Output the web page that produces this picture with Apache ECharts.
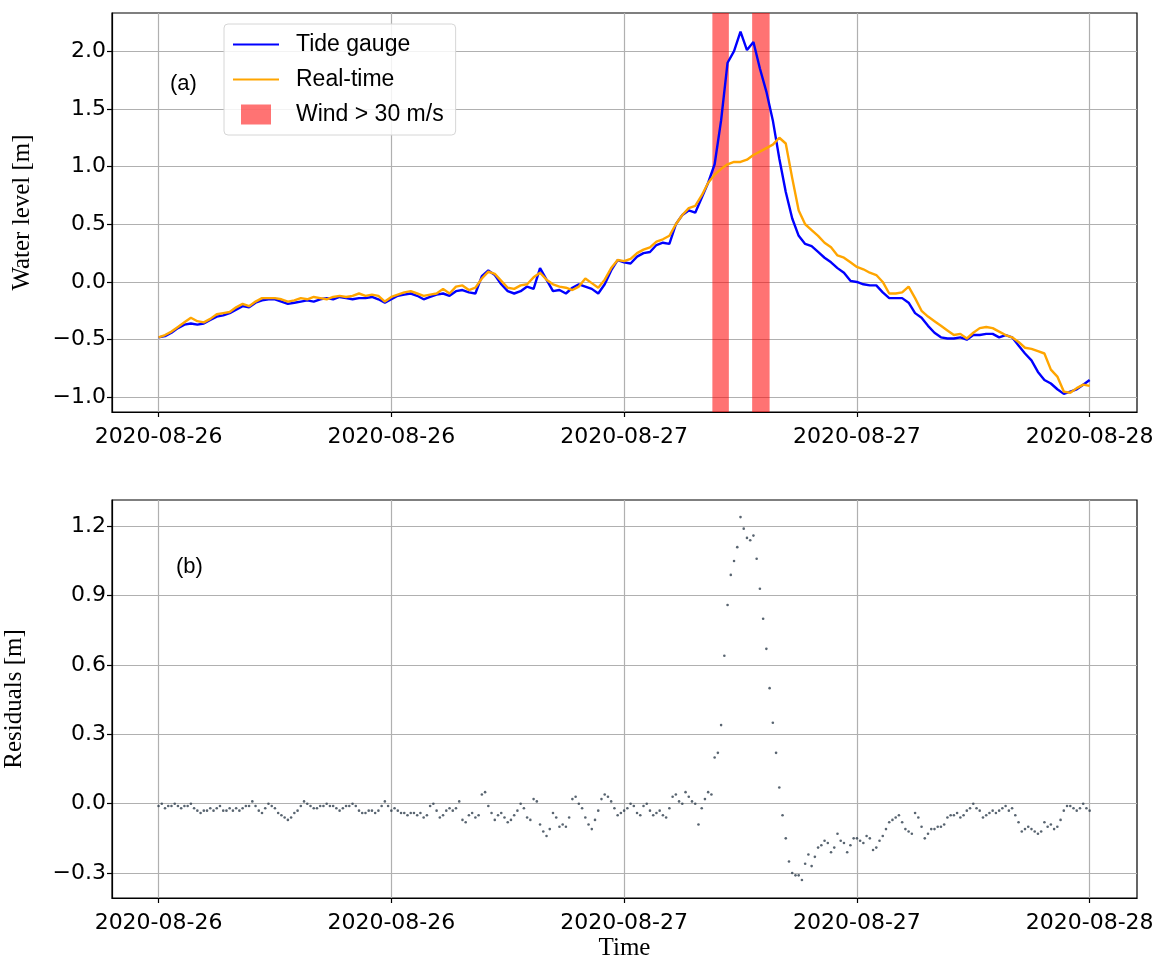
<!DOCTYPE html>
<html>
<head>
<meta charset="utf-8">
<title>Water level and residuals</title>
<script src="https://cdn.jsdelivr.net/npm/echarts@6/dist/echarts.min.js"></script>
<style>
  html, body { margin: 0; padding: 0; background: #fff; }
  #chart { width: 1158px; height: 959px; }
</style>
</head>
<body>
<div id="chart"></div>
<script>
// Time base: hours since 2020-08-26 00:00 UTC
const START_UTC = Date.UTC(2020, 7, 26);
const LEVEL_STEP_H = 1 / 3;   // water level sampled every 20 min
const RESID_STEP_H = 1 / 6;   // residuals sampled every 10 min

// Observed water level at the tide gauge [m]
const tideGauge = [
  -0.48, -0.47, -0.44,  -0.40, -0.37, -0.36,  -0.37, -0.36, -0.33,  -0.30, -0.29, -0.27,
  -0.24, -0.21, -0.22,  -0.18, -0.16, -0.15,  -0.15, -0.17, -0.19,  -0.18, -0.17, -0.16,
  -0.17, -0.15, -0.14,  -0.15, -0.13, -0.14,  -0.15, -0.14, -0.14,  -0.13, -0.15, -0.18,
  -0.15, -0.12, -0.11,  -0.10, -0.12, -0.15,  -0.13, -0.11, -0.10,  -0.12, -0.08, -0.07,
  -0.09, -0.10,  0.05,   0.10,  0.06, -0.02,  -0.08, -0.10, -0.08,  -0.04, -0.06,  0.12,
   0.02, -0.08, -0.07,  -0.10, -0.05, -0.02,  -0.04, -0.06, -0.10,  -0.02,  0.10,  0.19,
   0.17,  0.16,  0.22,   0.25,  0.26,  0.32,   0.34,  0.33,  0.50,   0.58,  0.62,  0.60,
   0.73,  0.86,  1.02,   1.40,  1.90,  2.00,   2.17,  2.01,  2.08,   1.85,  1.65,  1.40,
   1.07,  0.78,  0.55,   0.40,  0.33,  0.31,   0.26,  0.21,  0.17,   0.12,  0.08,  0.01,
   0.00, -0.02, -0.03,  -0.03, -0.09, -0.14,  -0.14, -0.14, -0.18,  -0.27, -0.31, -0.38,
  -0.44, -0.48, -0.49,  -0.49, -0.48, -0.50,  -0.46, -0.46, -0.45,  -0.45, -0.48, -0.46,
  -0.48, -0.55, -0.62,  -0.68, -0.78, -0.85,  -0.88, -0.93, -0.97,  -0.95, -0.93, -0.89,
  -0.85
];

// Real-time model water level [m]
const realTime = [
  -0.48, -0.46, -0.43,  -0.39, -0.35, -0.31,  -0.34, -0.35, -0.32,  -0.28, -0.27, -0.26,
  -0.22, -0.19, -0.21,  -0.17, -0.14, -0.14,  -0.14, -0.15, -0.17,  -0.16, -0.14, -0.15,
  -0.13, -0.14, -0.15,  -0.13, -0.12, -0.13,  -0.12, -0.10, -0.12,  -0.11, -0.12, -0.17,
  -0.13, -0.11, -0.09,  -0.08, -0.10, -0.12,  -0.11, -0.10, -0.06,  -0.10, -0.04, -0.03,
  -0.07, -0.05,  0.03,   0.09,  0.07,  0.01,  -0.05, -0.06, -0.03,  -0.02,  0.04,  0.08,
   0.02, -0.02, -0.04,  -0.05, -0.07, -0.04,   0.03, -0.01, -0.05,   0.02,  0.12,  0.19,
   0.18,  0.20,  0.25,   0.28,  0.30,  0.35,   0.37,  0.40,  0.50,   0.58,  0.64,  0.66,
   0.75,  0.86,  0.93,   0.98,  1.02,  1.04,   1.04,  1.06,  1.10,   1.13,  1.16,  1.19,
   1.25,  1.20,  0.90,   0.62,  0.50,  0.45,   0.40,  0.34,  0.30,   0.23,  0.21,  0.17,
   0.13,  0.11,  0.08,   0.06,  0.00, -0.10,  -0.10, -0.09, -0.04,  -0.14, -0.25, -0.30,
  -0.34, -0.38, -0.42,  -0.46, -0.45, -0.49,  -0.44, -0.40, -0.39,  -0.40, -0.43, -0.46,
  -0.48, -0.52, -0.57,  -0.58, -0.60, -0.62,  -0.76, -0.82, -0.95,  -0.96, -0.92, -0.89,
  -0.90
];

// Residuals between gauge and model [m]
const residuals = [
  -0.01,  0.00, -0.02, -0.01, -0.01,  0.00,   -0.01, -0.02, -0.01, -0.01,  0.00, -0.02,
  -0.03, -0.04, -0.03, -0.03, -0.02, -0.03,   -0.02, -0.01, -0.03, -0.03, -0.02, -0.03,
  -0.02, -0.03, -0.02, -0.01, -0.01,  0.01,   -0.01, -0.03, -0.04, -0.02,  0.00, -0.01,
  -0.02, -0.04, -0.05, -0.06, -0.07, -0.06,   -0.04, -0.03, -0.01,  0.01,  0.00, -0.01,
  -0.02, -0.02, -0.01, -0.01,  0.00, -0.01,   -0.01, -0.02, -0.03, -0.02, -0.01, -0.01,
   0.00, -0.01, -0.03, -0.04, -0.04, -0.03,   -0.03, -0.04, -0.03, -0.01,  0.01, -0.01,
  -0.03, -0.02, -0.03, -0.04, -0.04, -0.05,   -0.04, -0.04, -0.05, -0.04, -0.06, -0.05,
  -0.01,  0.00, -0.03, -0.06, -0.05, -0.03,   -0.02, -0.03, -0.02,  0.01, -0.07, -0.08,
  -0.05, -0.04, -0.06, -0.05,  0.04,  0.05,   -0.01, -0.04, -0.07, -0.05, -0.04, -0.06,
  -0.08, -0.07, -0.05, -0.03,  0.00, -0.02,   -0.06, -0.07,  0.02,  0.01, -0.09, -0.12,
  -0.14, -0.11, -0.04, -0.06, -0.10, -0.09,   -0.10, -0.06,  0.02,  0.03,  0.00, -0.02,
  -0.06, -0.09, -0.11, -0.07, -0.03,  0.02,    0.04,  0.03,  0.01, -0.02, -0.05, -0.04,
  -0.03, -0.02,  0.00, -0.01, -0.04, -0.05,   -0.01,  0.00, -0.03, -0.05, -0.04, -0.03,
  -0.05, -0.06, -0.02,  0.03,  0.04,  0.01,    0.00,  0.05,  0.03,  0.01,  0.00, -0.09,
  -0.02,  0.02,  0.05,  0.04,  0.20,  0.22,    0.34,  0.64,  0.86,  0.99,  1.05,  1.11,
   1.24,  1.19,  1.15,  1.14,  1.16,  1.06,    0.93,  0.80,  0.67,  0.50,  0.35,  0.22,
   0.07, -0.05, -0.15, -0.25, -0.30, -0.31,   -0.31, -0.33, -0.26, -0.22, -0.27, -0.23,
  -0.19, -0.18, -0.16, -0.17, -0.21, -0.19,   -0.13, -0.16, -0.17, -0.21, -0.18, -0.15,
  -0.15, -0.16, -0.17, -0.14, -0.15, -0.20,   -0.19, -0.16, -0.14, -0.11, -0.08, -0.07,
  -0.06, -0.05, -0.08, -0.11, -0.12, -0.13,   -0.04, -0.06, -0.10, -0.15, -0.13, -0.11,
  -0.11, -0.10, -0.10, -0.09, -0.06, -0.05,   -0.05, -0.04, -0.06, -0.05, -0.03, -0.02,
   0.00, -0.02, -0.03, -0.06, -0.05, -0.04,   -0.03, -0.04, -0.03, -0.02, -0.01, -0.03,
  -0.02, -0.05, -0.08, -0.12, -0.11, -0.10,   -0.11, -0.12, -0.13, -0.12, -0.08, -0.10,
  -0.09, -0.11, -0.10, -0.07, -0.03, -0.01,   -0.01, -0.02, -0.03, -0.02,  0.00, -0.02,
  -0.03
];

// Periods with wind speed above 30 m/s [start hour, end hour]
const windWindows = [[28.55, 29.4], [30.6, 31.5]];

// Tick positions
const timeTicks = [0, 12, 24, 36, 48];
const levelTicks = [-1.0, -0.5, 0.0, 0.5, 1.0, 1.5, 2.0];
const residualTicks = [-0.3, 0.0, 0.3, 0.6, 0.9, 1.2];

const X_RANGE = [-2.40, 50.44];
const LEVEL_RANGE = [-1.127, 2.331];
const RESID_RANGE = [-0.408, 1.314];

const toPairs = (values, step) => values.map((v, i) => [i * step, v]);
const dateLabel = v => new Date(START_UTC + v * 3600e3).toISOString().slice(0, 10);
const numLabel = v => (v < -1e-9 ? '\u2212' : '') + Math.abs(v).toFixed(1);

const GRID_COLOR = '#b0b0b0';
const TICK_FONT = { color: '#000', fontFamily: 'DejaVu Sans', fontSize: 22 };
const TITLE_FONT = { color: '#000', fontFamily: 'Liberation Serif', fontSize: 25 };

function timeAxis(gridIndex, name) {
  return {
    type: 'value', gridIndex,
    min: X_RANGE[0], max: X_RANGE[1],
    axisLine: { show: true, onZero: false, lineStyle: { color: '#000', width: 1.2 } },
    axisTick: { show: true, inside: false, length: 5, customValues: timeTicks,
                lineStyle: { color: '#000', width: 1.2 } },
    axisLabel: Object.assign({ customValues: timeTicks, formatter: dateLabel, margin: 14 }, TICK_FONT),
    splitLine: { show: true, lineStyle: { color: GRID_COLOR, width: 1.2 } },
    name: name || '', nameLocation: 'middle', nameGap: 38, nameTextStyle: TITLE_FONT
  };
}

function valueAxis(gridIndex, range, ticks, name, nameGap) {
  return {
    type: 'value', gridIndex,
    min: range[0], max: range[1],
    axisLine: { show: true, onZero: false, lineStyle: { color: '#000', width: 1.2 } },
    axisTick: { show: true, inside: false, length: 5, customValues: ticks,
                lineStyle: { color: '#000', width: 1.2 } },
    axisLabel: Object.assign({ customValues: ticks, formatter: numLabel, margin: 6 }, TICK_FONT),
    splitLine: { show: true, lineStyle: { color: GRID_COLOR, width: 1.2 } },
    name, nameLocation: 'middle', nameRotate: 90, nameGap, nameTextStyle: TITLE_FONT
  };
}

const chart = echarts.init(document.getElementById('chart'), null, { renderer: 'canvas' });

const gridBase = { left: 112, right: 21, show: true, borderColor: '#000', borderWidth: 1.2,
                   containLabel: false, outerBoundsMode: 'none' };

chart.setOption({
  animation: false,
  backgroundColor: '#fff',
  grid: [
    Object.assign({ top: 13, height: 399 }, gridBase),
    Object.assign({ top: 500, height: 398 }, gridBase)
  ],
  xAxis: [timeAxis(0), timeAxis(1, 'Time')],
  yAxis: [
    valueAxis(0, LEVEL_RANGE, levelTicks, 'Water level [m]', 77),
    valueAxis(1, RESID_RANGE, residualTicks, 'Residuals [m]', 85)
  ],
  legend: {
    left: 224, top: 24, orient: 'vertical',
    itemWidth: 46, itemHeight: 20, itemGap: 12,
    padding: [9, 12, 9, 9],
    backgroundColor: 'rgba(255,255,255,0.85)',
    borderColor: '#d6d6d6', borderWidth: 1, borderRadius: 4,
    textStyle: { color: '#000', fontFamily: 'Liberation Sans', fontSize: 23, padding: [0, 0, 0, 12] },
    data: [
      { name: 'Tide gauge', icon: 'path://M0,0H46V2H0Z' },
      { name: 'Real-time', icon: 'path://M0,0H46V2H0Z' },
      { name: 'Wind > 30 m/s', icon: 'path://M0,0H3V2H0Z' }
    ]
  },
  graphic: [
    { type: 'text', left: 170, top: 73, style: { text: '(a)', fill: '#000', font: '22px "Liberation Sans"' } },
    { type: 'text', left: 176, top: 556, style: { text: '(b)', fill: '#000', font: '22px "Liberation Sans"' } }
  ],
  series: [
    {
      name: 'Wind > 30 m/s', type: 'line', xAxisIndex: 0, yAxisIndex: 0,
      data: [], z: 1, color: 'rgba(255,0,0,0.55)',
      markArea: {
        silent: true,
        itemStyle: { color: 'rgba(255,0,0,0.55)' },
        data: windWindows.map(([a, b]) => [{ xAxis: a }, { xAxis: b }])
      }
    },
    {
      name: 'Tide gauge', type: 'line', xAxisIndex: 0, yAxisIndex: 0,
      data: toPairs(tideGauge, LEVEL_STEP_H),
      symbol: 'none', color: '#0000ff', z: 3,
      lineStyle: { color: '#0000ff', width: 2.4 }
    },
    {
      name: 'Real-time', type: 'line', xAxisIndex: 0, yAxisIndex: 0,
      data: toPairs(realTime, LEVEL_STEP_H),
      symbol: 'none', color: '#ffa500', z: 4,
      lineStyle: { color: '#ffa500', width: 2.4 }
    },
    {
      name: 'Residuals', type: 'scatter', xAxisIndex: 1, yAxisIndex: 1,
      data: toPairs(residuals, RESID_STEP_H),
      symbolSize: 2.6, itemStyle: { color: '#2e3d4c' }, z: 3
    }
  ]
});
</script>
</body>
</html>
